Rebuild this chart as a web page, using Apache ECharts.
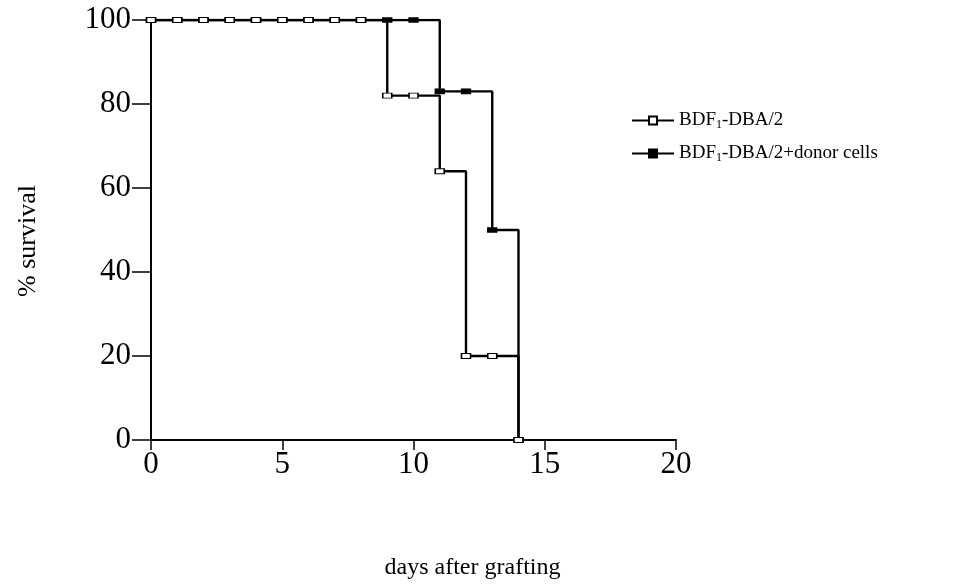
<!DOCTYPE html>
<html>
<head>
<meta charset="utf-8">
<script src="https://cdn.jsdelivr.net/npm/echarts@6/dist/echarts.min.js"></script>
<style>
  html, body { margin: 0; padding: 0; background: #fff; }
  #main { width: 958px; height: 586px; }
</style>
</head>
<body>
<div id="main"></div>
<script type="text/javascript">
    // days after grafting
    var days = [0, 1, 2, 3, 4, 5, 6, 7, 8, 9, 10, 11, 12, 13, 14];
    // % survival, BDF1-DBA/2
    var bdfSurvival = [100, 100, 100, 100, 100, 100, 100, 100, 100, 82, 82, 64, 20, 20, 0];
    // % survival, BDF1-DBA/2 + donor cells
    var donorSurvival = [100, 100, 100, 100, 100, 100, 100, 100, 100, 100, 100, 83, 83, 50, 0];
    var xTicks = [0, 5, 10, 15, 20];
    var yTicks = [0, 20, 40, 60, 80, 100];

    var serif = '"Liberation Serif", "DejaVu Serif", serif';

    function pairs(xs, ys) {
        var out = [];
        for (var i = 0; i < xs.length; i++) {
            out.push([xs[i], ys[i]]);
        }
        return out;
    }

    var myChart = echarts.init(document.getElementById('main'));

    var option = {
        backgroundColor: '#fff',
        animation: false,
        grid: { left: 151, right: 282, top: 20, bottom: 146 },
        legend: {
            orient: 'vertical',
            left: 626,
            top: 106,
            itemGap: 13,
            itemWidth: 42,
            itemHeight: 10,
            textStyle: {
                fontFamily: serif,
                fontSize: 19,
                color: '#000',
                rich: {
                    a: { fontFamily: serif, fontSize: 19, color: '#000' },
                    s: { fontFamily: serif, fontSize: 12, color: '#000', padding: [9, 0, 0, 0] }
                }
            },
            formatter: function (name) {
                if (name === 'donor') {
                    return '{a|BDF}{s|1}{a|-DBA/2+donor cells}';
                }
                return '{a|BDF}{s|1}{a|-DBA/2}';
            },
            data: ['bdf', 'donor']
        },
        xAxis: {
            type: 'value',
            min: 0,
            max: 20,
            interval: 5,
            name: 'days after grafting',
            nameLocation: 'middle',
            nameGap: 116,
            nameTextStyle: { fontFamily: serif, fontSize: 24, color: '#000', padding: [0, 0, 0, 118] },
            axisLine: { lineStyle: { color: '#000', width: 2 } },
            axisTick: { show: true, length: 10, lineStyle: { color: '#000', width: 1.5 } },
            axisLabel: {
                fontFamily: serif, fontSize: 31, color: '#000', margin: 9,
                formatter: function (v) { return xTicks.indexOf(v) >= 0 ? String(v) : ''; }
            },
            splitLine: { show: false }
        },
        yAxis: {
            type: 'value',
            min: 0,
            max: 100,
            interval: 20,
            name: '% survival',
            nameLocation: 'middle',
            nameGap: 110,
            nameTextStyle: { fontFamily: serif, fontSize: 26, color: '#000', padding: [0, 22, 0, 0] },
            axisLine: { lineStyle: { color: '#000', width: 2 } },
            axisTick: { show: true, length: 19, lineStyle: { color: '#000', width: 1.5 } },
            axisLabel: {
                fontFamily: serif, fontSize: 31, color: '#000', margin: 20,
                formatter: function (v) { return yTicks.indexOf(v) >= 0 ? String(v) : ''; }
            },
            splitLine: { show: false }
        },
        series: [
            {
                name: 'donor',
                type: 'line',
                step: 'end',
                data: pairs(days, donorSurvival),
                symbol: 'rect',
                symbolSize: [9, 5],
                itemStyle: { color: '#000', borderColor: '#000', borderWidth: 1 },
                lineStyle: { color: '#000', width: 2.4 },
                z: 2
            },
            {
                name: 'bdf',
                type: 'line',
                step: 'end',
                data: pairs(days, bdfSurvival),
                symbol: 'rect',
                symbolSize: [9, 5],
                itemStyle: { color: '#fff', borderColor: '#000', borderWidth: 1.2 },
                lineStyle: { color: '#000', width: 2.4 },
                z: 3
            }
        ]
    };

    myChart.setOption(option);
</script>
</body>
</html>
